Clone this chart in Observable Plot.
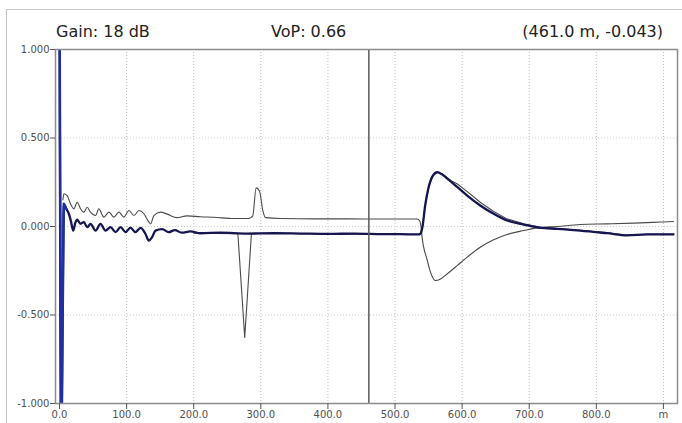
<!DOCTYPE html>
<html><head><meta charset="utf-8">
<script src="https://cdn.jsdelivr.net/npm/d3@7"></script>
<script src="https://cdn.jsdelivr.net/npm/@observablehq/plot@0.6"></script>
<style>
body{margin:0;background:#fff;}
#wrap{position:relative;width:682px;height:423px;overflow:hidden;background:#fff;font-family:"DejaVu Sans",sans-serif;}
#border{position:absolute;left:6px;top:9px;width:720px;height:460px;border-left:1.5px solid #c6c6c6;border-top:1.5px solid #c6c6c6;}
.hdr{position:absolute;top:22px;font-size:16px;color:#222;line-height:20px;white-space:nowrap;}
#chart{position:absolute;left:0;top:40px;}
</style></head><body>
<div id="wrap">
<div id="border"></div>
<div class="hdr" id="h1" style="left:56px"></div>
<div class="hdr" id="h2" style="left:271px"></div>
<div class="hdr" id="h3" style="right:19px"></div>
<div id="chart"></div>
</div>
<script>
// header texts
const headerTexts = ["Gain: 18 dB", "VoP: 0.66", "(461.0 m, -0.043)"];
// cursor position (m)
const cursorM = [461];
// axis ticks
const xTicks = [0,100,200,300,400,500,600,700,800,900];
const xTickLabels = ["0.0","100.0","200.0","300.0","400.0","500.0","600.0","700.0","800.0","m"];
const yTicks = [-1,-0.5,0,0.5,1];
const yTickLabels = ["-1.000","-0.500","0.000","0.500","1.000"];
const gridXVals = [100,200,300,400,500,600,700,800,900];
const gridYVals = [-0.5,0,0.5];

// Trace A (thick navy)
const aM = [0,2.5,6.4,10,13.9,17,20.4,23.5,26.3,31.3,36.3,41.2,46.2,53.7,61,68.6,76,83.5,91,98.4,105.8,113,120.7,128,133,138,143,153,162.5,172,182,195,210,240,280,320,360,400,440,480,520,535,538,541,545,550,556,563,570,578,593,607.6,627,647,667,692,717,742,776,816,846,876,915];
const aV = [1.3,-1.3,0.128,0.10,0.072,0.03,-0.023,0.02,0.038,0.015,0.025,-0.004,0.015,-0.023,0.015,-0.023,-0.004,-0.032,-0.004,-0.032,-0.006,-0.032,-0.008,-0.041,-0.079,-0.06,-0.023,-0.015,-0.032,-0.02,-0.035,-0.028,-0.038,-0.035,-0.04,-0.038,-0.04,-0.042,-0.04,-0.043,-0.044,-0.045,-0.04,0.0,0.12,0.22,0.285,0.307,0.295,0.27,0.222,0.175,0.119,0.072,0.034,0.011,-0.008,-0.013,-0.023,-0.038,-0.05,-0.045,-0.045];
// Trace B (thin gray, upper)
const bM = [5,6.4,11.4,16.4,21.4,26.3,31.3,36.3,41.2,46.2,53.7,58.6,66.1,73.6,81,88.5,96,103.4,110.9,118.4,125.7,133.2,135.7,140.6,150.5,160.5,175,190,210,230,260,282,288,293,298,303,307,330,380,430,480,520,533,537,539,540,548,554,560,568,578,593,607.6,627,647,667,692,712,742,776,816,856,896,915];
const bV = [0.15,0.185,0.175,0.128,0.10,0.137,0.10,0.081,0.109,0.081,0.062,0.10,0.053,0.081,0.053,0.081,0.053,0.09,0.062,0.09,0.072,0.025,0.015,0.062,0.081,0.07,0.05,0.06,0.055,0.052,0.045,0.045,0.06,0.218,0.2,0.09,0.05,0.045,0.043,0.043,0.042,0.042,0.042,0.03,-0.01,-0.05,-0.19,-0.27,-0.305,-0.296,-0.267,-0.22,-0.173,-0.117,-0.075,-0.045,-0.023,-0.008,0,0.011,0.015,0.019,0.025,0.028];
// Trace C (thin gray, overlapping A)
const cM = [200,265.8,276,286,320,400,480,535,538,541,545,550,556,563,570,583,593,610,627,647,667,692,717,742,776,816,846,876,915];
const cV = [-0.038,-0.04,-0.627,-0.04,-0.038,-0.042,-0.043,-0.045,-0.04,0.0,0.12,0.22,0.285,0.305,0.298,0.26,0.24,0.19,0.137,0.085,0.043,0.015,-0.005,-0.012,-0.022,-0.036,-0.048,-0.044,-0.044];

const toRows = (ms, vs) => ms.map((m, i) => ({m, v: vs[i]}));
const A = toRows(aM, aV), B = toRows(bM, bV), C = toRows(cM, cV);
const spike = A.slice(0, 4);

document.getElementById("h1").textContent = headerTexts[0];
document.getElementById("h2").textContent = headerTexts[1];
document.getElementById("h3").textContent = headerTexts[2];

const chart = Plot.plot({
  width: 682, height: 383,
  marginTop: 9, marginBottom: 20, marginLeft: 55, marginRight: 5,
  x: {domain: [-6, 921]},
  y: {domain: [-1, 1]},
  style: {fontFamily: "DejaVu Sans", fontSize: "10px", color: "#505050", background: "transparent", overflow: "visible"},
  marks: [
    Plot.gridX(gridXVals, {stroke: "#bdbdbd", strokeOpacity: 1, strokeDasharray: "1,2"}),
    Plot.gridY(gridYVals, {stroke: "#cfcfcf", strokeOpacity: 1, strokeDasharray: "1,2"}),
    Plot.line(B, {x: "m", y: "v", stroke: "#4a4a4a", strokeWidth: 1.1, curve: "monotone-x", clip: true}),
    Plot.line(C, {x: "m", y: "v", stroke: "#4a4a4a", strokeWidth: 1.1, curve: "linear", clip: true}),
    Plot.line(A, {x: "m", y: "v", stroke: "#15154f", strokeWidth: 2.3, curve: "monotone-x", clip: true}),
    Plot.line(spike, {x: "m", y: "v", stroke: "#1f2ea0", strokeWidth: 2.5, clip: true}),
    Plot.ruleX(cursorM, {stroke: "#5a5a5a", strokeWidth: 1.5}),
    Plot.frame({stroke: "#8c8c8c", strokeWidth: 1.5}),
    Plot.axisX(xTicks, {tickFormat: (d, i) => xTickLabels[i], tickSize: 6, tickPadding: 1, stroke: "#555", fill: "#505050", label: null}),
    Plot.axisY(yTicks, {tickFormat: (d, i) => yTickLabels[i], tickSize: 5, tickPadding: 1, stroke: "#555", fill: "#505050", label: null})
  ]
});
document.getElementById("chart").appendChild(chart);
</script>
</body></html>
